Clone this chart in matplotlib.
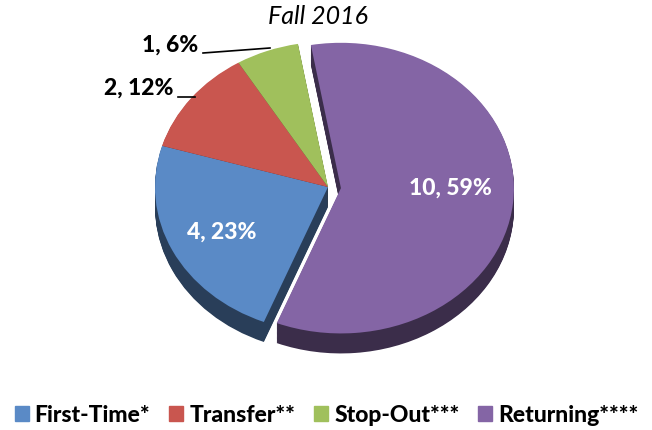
import matplotlib.pyplot as plt
import matplotlib.colors as mcolors
from matplotlib.patches import Patch
import numpy as np

plt.rcParams['font.family'] = ['Lato', 'DejaVu Sans']

# data, in clockwise order from the top
categories = ['Returning****', 'First-Time*', 'Transfer**', 'Stop-Out***']
counts = [10, 4, 2, 1]
pct_labels = ['59%', '23%', '12%', '6%']
colors = ['#8465A5', '#5A8AC6', '#C9564F', '#A0C05C']
legend_order = ['First-Time*', 'Transfer**', 'Stop-Out***', 'Returning****']

W, H = 652, 430
sy = 0.84  # vertical squash of the tilted pie
fig = plt.figure(figsize=(W / 100, H / 100), dpi=100)
ax = fig.add_axes([0, 0, 1, 1])

cx, cy = 328, (H - 187) / sy
r = 173
explode = [13, 0, 0, 0]
depth = 20 / sy

def darker(c, f):
    rgb = np.array(mcolors.to_rgb(c))
    return tuple(rgb * f)

# side of the disc: stacked darker layers
nlay = 24
for k in range(nlay, 0, -1):
    off = depth * k / nlay
    ax.pie(counts, colors=[darker(c, 0.45) for c in colors], startangle=100,
           counterclock=False, explode=explode, radius=r,
           center=(cx, cy - off), frame=True,
           wedgeprops=dict(linewidth=0))

# top face
wedges, _ = ax.pie(counts, colors=colors, startangle=100, counterclock=False,
                   explode=explode, radius=r, center=(cx, cy), frame=True,
                   wedgeprops=dict(linewidth=0))
ax.set_xlim(0, W)
ax.set_ylim(0, H / sy)
ax.set_aspect('auto')
ax.axis('off')

def px(x, y):
    return x, (H - y) / sy

fs = 16.5
wt = 'black'
ax.text(*px(450, 188), f'{counts[0]}, {pct_labels[0]}', color='white',
        fontsize=fs, fontweight=wt, ha='center', va='center')
ax.text(*px(222, 232), f'{counts[1]}, {pct_labels[1]}', color='white',
        fontsize=fs, fontweight=wt, ha='center', va='center')
ax.text(*px(173, 88), f'{counts[2]}, {pct_labels[2]}', color='black',
        fontsize=fs, fontweight=wt, ha='right', va='center')
ax.text(*px(198, 45), f'{counts[3]}, {pct_labels[3]}', color='black',
        fontsize=fs, fontweight=wt, ha='right', va='center')
ax.plot(*zip(px(178, 97), px(195, 97)), color='black', lw=1.2)
ax.plot(*zip(px(203, 53), px(270, 48)), color='black', lw=1.2)

ax.text(*px(318, 17), 'Fall 2016', fontsize=18, fontstyle='italic',
        ha='center', va='center')

handles = [Patch(color=colors[categories.index(n)]) for n in legend_order]
fig.legend(handles, legend_order, loc='center', bbox_to_anchor=(0.501, 1 - 415 / H),
           ncol=4, frameon=False, handlelength=0.61, handleheight=0.61,
           handletextpad=0.26, columnspacing=0.83,
           prop=dict(size=fs, weight=wt))

fig.savefig('out.png', dpi=100)
